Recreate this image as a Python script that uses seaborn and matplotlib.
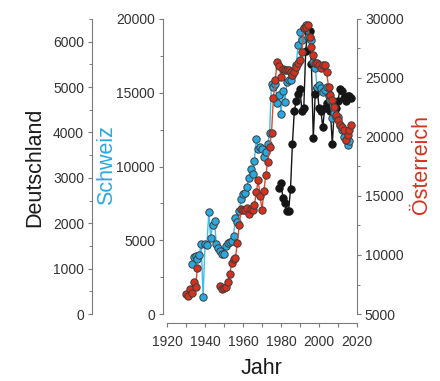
import numpy as np
import pandas as pd
import matplotlib
matplotlib.use("Agg")
import matplotlib.pyplot as plt
from matplotlib.ticker import MultipleLocator
import seaborn as sns

# ---------------- data ----------------
ch_years = [1933, 1934, 1935, 1936, 1937, 1938, 1939, 1940, 1941, 1942, 1943, 1944, 1945,
            1946, 1947, 1948, 1949, 1950, 1951, 1952, 1953, 1954, 1955, 1956, 1957, 1958,
            1959, 1960, 1961, 1962, 1963, 1964, 1965, 1966, 1967, 1968, 1969, 1970, 1971,
            1972, 1973, 1974, 1975, 1976, 1977, 1978, 1979, 1980, 1981, 1982, 1983, 1984,
            1985, 1986, 1987, 1988, 1989, 1990, 1991, 1992, 1993, 1994, 1995, 1996, 1997,
            1998, 1999, 2000, 2001, 2002, 2003, 2004, 2005, 2006, 2007, 2008, 2009, 2010,
            2011, 2012, 2013, 2014, 2015, 2016]
ch_values = [3390, 3880, 3900, 3730, 4000, 4770, 1130, 4770, 4680, 6900, 5170, 6030, 6280,
             4720, 4500, 4290, 4070, 4070, 4590, 4790, 4850, 4930, 5310, 6490, 6240, 7000,
             7800, 8140, 8230, 8610, 9200, 9830, 9520, 10400, 11860, 11190, 11300, 11170, 10620,
             11000, 11500, 12300, 15600, 15400, 15600, 14330, 14850, 13560, 15140, 14350, 15700, 15870,
             15870, 16200, 16500, 16880, 18240, 19140, 18600, 19400, 19600, 18800, 18700, 18580, 17110,
             16660, 15410, 15530, 15300, 15070, 15200, 15410, 14800, 14510, 13270, 13600, 13380, 13380,
             12800, 12490, 12030, 11800, 11470, 11700]

at_years = [1930, 1931, 1932, 1933, 1934, 1935, 1936,
            1948, 1949, 1950, 1951, 1952, 1953, 1954, 1955, 1956, 1957, 1958, 1959, 1960,
            1961, 1962, 1963, 1964, 1965, 1966, 1967, 1968, 1969, 1970, 1971, 1972, 1973,
            1974, 1975, 1976, 1977, 1978, 1979, 1980, 1981, 1982, 1983, 1984, 1985, 1986,
            1987, 1988, 1989, 1990, 1991, 1992, 1993, 1994, 1995, 1996, 1997, 1998, 1999,
            2000, 2001, 2002, 2003, 2004, 2005, 2006, 2007, 2008, 2009, 2010, 2011, 2012,
            2013, 2014, 2015, 2016, 2017]
at_values = [6670, 6530, 7120, 6750, 7740, 7310, 8920,
             7370, 7120, 7180, 7310, 7690, 8360, 9300, 9660, 9720, 11000, 12500, 13870, 13800,
             13810, 13950, 13470, 13900, 13810, 14200, 15310, 16360, 15000, 13810, 15450, 16780, 17900,
             19180, 20360, 23280, 24830, 26380, 26020, 25110, 25760, 25680, 25680, 25680, 25530, 25250,
             25530, 25900, 26240, 26520, 27230, 29210, 29300, 29490, 28500, 27650, 26950, 26240, 26240,
             26100, 25820, 26100, 26100, 25530, 24270, 23560, 23140, 22570, 21860, 21440, 21020, 20870,
             20590, 19750, 20170, 20590, 21020]
# the Austrian series has a gap (no line) between the pre-war and post-war records
at_period = ["vor"] * 7 + ["nach"] * 70

de_years = [1979, 1980, 1981, 1982, 1983, 1984, 1985, 1986, 1987, 1988, 1989, 1990, 1991,
            1992, 1993, 1994, 1995, 1996, 1997, 1998, 1999, 2000, 2001, 2002, 2003, 2004,
            2005, 2006, 2007, 2008, 2009, 2010, 2011, 2012, 2013, 2014, 2015, 2016, 2017]
de_values = [2780, 2890, 2560, 2450, 2270, 2270, 2750, 3740, 4470, 4690, 4840, 4950, 4470,
             4550, 5800, 6200, 6240, 5500, 3880, 4840, 4990, 4550, 4470, 4110, 4550, 4660,
             4840, 4470, 3740, 4470, 4550, 4700, 4950, 4910, 4770, 4690, 4800, 4800, 4770]

x_ticks = [1920, 1940, 1960, 1980, 2000, 2020]

# ---------------- style ----------------
sns.set_style("ticks")
plt.rcParams["font.family"] = ["Liberation Sans", "DejaVu Sans"]

W, H = 440, 381
fig = plt.figure(figsize=(W / 100, H / 100), dpi=100)

# plotting area in pixels: x 163..357, y 19..314
ax = fig.add_axes([163 / W, (H - 314) / H, (357 - 163) / W, 295 / H])
ax_de = ax.twinx()
ax_at = ax.twinx()

blue = "#29a9df"
blue_line = "#3fbde9"
red = "#d4321f"
red_line = "#de4a30"
black = "#151515"
edge = "#3c3c3c"
spine_c = "#7a7a7a"
txt_c = "#333333"

ax_de.set_zorder(1)
ax.set_zorder(2)
ax_at.set_zorder(3)
for a in (ax, ax_de, ax_at):
    a.patch.set_visible(False)

mk = dict(marker="o", markersize=5.3, markeredgewidth=0.7, linewidth=1.0)

sns.lineplot(x=de_years, y=de_values, ax=ax_de, color=black, markerfacecolor=black,
             markeredgecolor=black, clip_on=False, **mk)
sns.lineplot(x=ch_years, y=ch_values, ax=ax, color=blue_line, markerfacecolor=blue,
             markeredgecolor=edge, clip_on=False, **mk)
at_df = pd.DataFrame({"Jahr": at_years, "Wert": at_values, "Periode": at_period})
sns.lineplot(data=at_df, x="Jahr", y="Wert", units="Periode", estimator=None, ax=ax_at,
             color=red_line, markerfacecolor=red, markeredgecolor=edge, clip_on=False, **mk)

xlim = (1920 - 4 / 1.9, 2020)
for a in (ax, ax_de, ax_at):
    a.set_xlim(*xlim)
    a.set_xlabel("")
    a.set_ylabel("")
    for s in a.spines.values():
        s.set_visible(False)
        s.set_color(spine_c)
        s.set_linewidth(0.8)

ax.set_ylim(0, 20000)
ax_de.set_ylim(0, 6500)
ax_at.set_ylim(5000, 30000)

# Schweiz axis (left of plot)
ax.spines["left"].set_visible(True)
ax.spines["left"].set_bounds(0, 20000)
ax.yaxis.set_major_locator(MultipleLocator(5000))
ax.yaxis.set_minor_locator(MultipleLocator(2500))

# x axis
ax.spines["bottom"].set_visible(True)
ax.spines["bottom"].set_position(("outward", 6.5))
ax.spines["bottom"].set_bounds(1920, 2020)
ax.set_xticks(x_ticks)
ax.xaxis.set_minor_locator(MultipleLocator(10))
ax.set_xticklabels([str(t) for t in x_ticks])

# Deutschland axis (far left)
ax_de.yaxis.tick_left()
ax_de.spines["left"].set_visible(True)
ax_de.spines["left"].set_position(("outward", 51.1))
ax_de.spines["left"].set_bounds(0, 6500)
ax_de.yaxis.set_major_locator(MultipleLocator(1000))
ax_de.yaxis.set_minor_locator(MultipleLocator(500))
ax_de.set_yticks(range(0, 6001, 1000))

# Österreich axis (right)
ax_at.yaxis.tick_right()
ax_at.spines["right"].set_visible(True)
ax_at.spines["right"].set_bounds(5000, 30000)
ax_at.yaxis.set_major_locator(MultipleLocator(5000))
ax_at.yaxis.set_minor_locator(MultipleLocator(2500))

for a in (ax, ax_de, ax_at):
    a.tick_params(which="major", length=3.2, width=0.8, color=spine_c, labelsize=10,
                  labelcolor=txt_c, pad=2.5)
    a.tick_params(which="minor", length=2.0, width=0.7, color=spine_c)
ax.tick_params(axis="x", which="minor", length=3.2, width=0.8)
ax.tick_params(axis="x", which="major", pad=5.5)
ax_de.tick_params(axis="x", bottom=False, labelbottom=False, which="both")
ax_at.tick_params(axis="x", bottom=False, labelbottom=False, which="both")

# axis titles
fig.text(35 / W, 1 - 167 / H, "Deutschland", rotation=90, ha="center", va="center",
         fontsize=15.5, color="#1a1a1a")
fig.text(107 / W, 1 - 165 / H, "Schweiz", rotation=90, ha="center", va="center",
         fontsize=15.5, color=blue)
fig.text(421 / W, 1 - 165 / H, "Österreich", rotation=90, ha="center", va="center",
         fontsize=15.5, color=red)
fig.text(262 / W, 1 - 368 / H, "Jahr", ha="center", va="center",
         fontsize=15.5, color="#1a1a1a")

fig.savefig("out.png", dpi=100)
